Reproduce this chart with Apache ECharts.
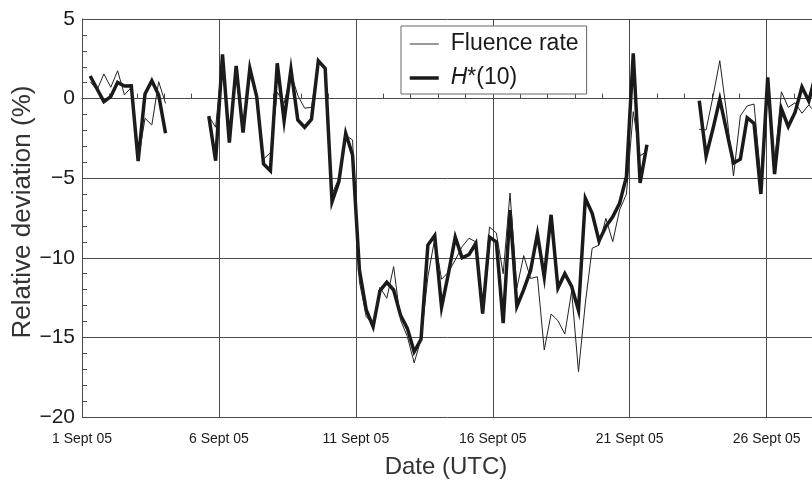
<!DOCTYPE html>
<html><head><meta charset="utf-8">
<script src="https://cdn.jsdelivr.net/npm/echarts@6/dist/echarts.min.js"></script>
<style>html,body{margin:0;padding:0;background:#fff}#c{width:812px;height:480px}</style>
</head><body><div id="c"></div>
<script>
// x tick labels (every 5 days, x in days from 1 Sept 05 00:00 UTC)
const dayLabels = ['1 Sept 05', '6 Sept 05', '11 Sept 05', '16 Sept 05', '21 Sept 05', '26 Sept 05'];
const yTicks = [-20, -15, -10, -5, 0, 5];
const stepDays = 0.25;                 // 6-hourly values
const segStarts = [0.30, 4.63, 22.54]; // start (days) of each measured segment

const fluence1 = [1.06, 0.54, 1.55, 0.71, 1.75, 0.23, 0.71, -3.9, -1.24, -1.66, 1.06, -0.3];
const hstar1   = [1.42, 0.6, -0.19, 0.12, 1.02, 0.79, 0.81, -3.92, 0.29, 1.12, 0.23, -2.18];

const fluence2 = [-1.1, -1.8, 2.6, -2.6, 1.9, -2.0, 1.8, 0.3, -3.8, -3.4,
  0.4, -0.3, 1.6, 0.2, -0.6, -0.55, 2.3, 1.9, -6.0, -5.0,
  -2.3, -2.6, -11.5, -13.7, -14.2, -11.85, -12.54, -10.56, -13.9, -14.95,
  -16.6, -15.1, -11.2, -8.8, -11.35, -10.9, -10.14, -9.3, -8.77, -9.0,
  -13.5, -8.07, -8.44, -11.0, -5.93, -11.9, -9.86, -11.3, -11.19, -15.79,
  -13.53, -13.95, -14.79, -12.1, -17.15, -12.85, -9.4, -9.2, -7.52, -8.99,
  -7.0, -6.0, -0.82, -3.6, -3.3];
const hstar2 = [-1.1, -3.9, 2.78, -2.77, 2.05, -2.14, 1.9, 0.12, -4.1, -4.53,
  2.22, -1.39, 1.84, -1.34, -1.8, -1.3, 2.38, 1.9, -6.48, -5.22,
  -2.18, -3.54, -10.77, -13.28, -14.33, -12.07, -11.54, -12.02, -13.6, -14.43,
  -15.9, -15.12, -9.2, -8.6, -13.1, -11.0, -8.7, -10.0, -9.8, -9.1,
  -13.5, -8.7, -9.0, -14.1, -7.0, -13.05, -12.0, -10.8, -8.5, -11.2,
  -7.3, -11.9, -11.0, -11.8, -13.3, -6.26, -7.2, -8.94, -8.04, -7.42,
  -6.58, -4.9, 2.85, -5.3, -2.9];

const fluence3 = [-1.93, -1.97, 0.12, 2.38, -0.92, -4.86, -1.09, -0.46, -0.34, -5.0,
  1.0, -4.0, 0.43, -0.55, -0.26, -0.92, -0.4, -0.9];
const hstar3   = [-0.13, -3.6, -1.9, -0.04, -2.05, -4.05, -3.81, -1.2, -1.55, -5.99,
  1.34, -4.74, -0.64, -1.76, -0.85, 0.73, -0.15, 1.5];

function build(segs) {
  const out = [];
  segs.forEach((vals, s) => {
    if (s > 0) out.push([segStarts[s] - 0.1, null]);
    vals.forEach((v, i) => out.push([segStarts[s] + i * stepDays, v]));
  });
  return out;
}
const fluenceData = build([fluence1, fluence2, fluence3]);
const hstarData = build([hstar1, hstar2, hstar3]);

const FONT = '"Liberation Sans", Arial, Helvetica, sans-serif';
const INK = '#1a1a1a';
const GRID = '#4a4a4a';
const pxPerDay = 27.385;

const chart = echarts.init(document.getElementById('c'), null, {renderer: 'canvas'});
chart.setOption({
  animation: false,
  backgroundColor: '#fff',
  grid: {left: 82, top: 19, width: 30 * pxPerDay, height: 398, containLabel: false, outerBoundsMode: 'none'},
  xAxis: {
    type: 'value', min: 0, max: 30, interval: 5,
    axisLine: {show: true, lineStyle: {color: GRID, width: 1}},
    axisTick: {show: true, inside: true, length: 5, lineStyle: {color: GRID}},
    minorTick: {show: true, splitNumber: 5, length: 5, lineStyle: {color: GRID}},
    splitLine: {show: true, lineStyle: {color: GRID, width: 1}},
    axisLabel: {
      fontSize: 14, color: INK, fontFamily: FONT, margin: 15,
      formatter: v => (v % 5 === 0 && dayLabels[v / 5]) ? dayLabels[v / 5] : ''
    }
  },
  yAxis: {
    type: 'value', min: yTicks[0], max: yTicks[yTicks.length - 1], interval: 5,
    name: 'Relative deviation (%)', nameLocation: 'middle', nameGap: 46, nameMoveOverlap: false,
    nameTextStyle: {fontSize: 26, color: '#333', fontFamily: FONT, padding: [0, 0, 0, 12]},
    axisLine: {show: true, lineStyle: {color: GRID, width: 1}},
    axisTick: {show: true, inside: true, length: 5, lineStyle: {color: GRID}},
    minorTick: {show: true, splitNumber: 5, length: 5, lineStyle: {color: GRID}},
    splitLine: {show: true, lineStyle: {color: GRID, width: 1}},
    axisLabel: {
      fontSize: 21, color: INK, fontFamily: FONT, margin: 7,
      formatter: v => String(v).replace('-', '\u2212')
    }
  },
  legend: {
    left: 401, top: 26, orient: 'vertical',
    backgroundColor: '#fff', borderColor: '#666', borderWidth: 1,
    padding: [5, 8, 3, 7], itemGap: 8, itemWidth: 29, itemHeight: 14,
    itemStyle: {color: 'rgba(0,0,0,0)', borderWidth: 0, opacity: 0},
    textStyle: {
      fontSize: 23, color: INK, fontFamily: FONT, padding: [0, 0, 0, 7], lineHeight: 26,
      rich: {i: {fontSize: 23, fontStyle: 'italic', color: INK, fontFamily: FONT, lineHeight: 26}}
    },
    formatter: name => name === 'H*(10)' ? '{i|H}*(10)' : name,
    data: [
      {name: 'Fluence rate', lineStyle: {width: 1, color: '#333', opacity: 1}},
      {name: 'H*(10)', lineStyle: {width: 3.5, color: INK, opacity: 1}}
    ]
  },
  graphic: [{
    type: 'text', x: 446, y: 467, z: 10,
    style: {text: 'Date (UTC)', fontSize: 24, fill: '#333', fontFamily: FONT,
            align: 'center', verticalAlign: 'middle', textAlign: 'center', textVerticalAlign: 'middle'}
  }],
  series: [
    {
      name: 'H*(10)', type: 'line', data: hstarData, symbol: 'none', showSymbol: false,
      connectNulls: false, clip: true,
      lineStyle: {color: INK, width: 3.5, join: 'miter', miterLimit: 8}, z: 3
    },
    {
      name: 'Fluence rate', type: 'line', data: fluenceData, symbol: 'none', showSymbol: false,
      connectNulls: false, clip: true,
      lineStyle: {color: '#222', width: 1, join: 'miter'}, z: 4
    }
  ]
});
</script></body></html>
